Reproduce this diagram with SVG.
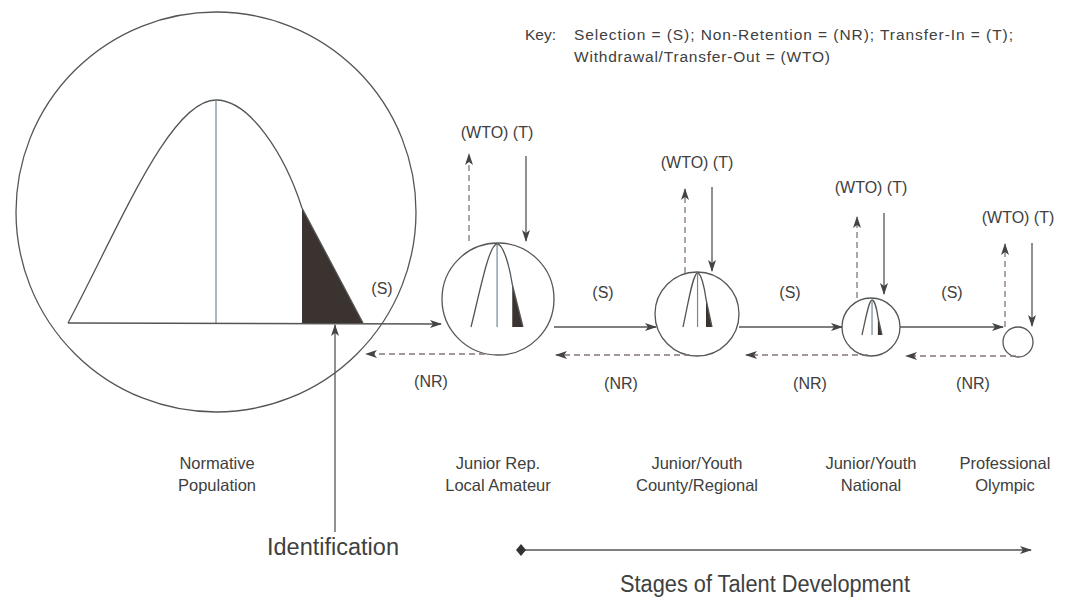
<svg xmlns="http://www.w3.org/2000/svg" width="1067" height="603" viewBox="0 0 1067 603">
  <style>
    text { font-family: "Liberation Sans", Arial, sans-serif; fill: #404040; }
    .lbl { font-size: 16px; text-anchor: middle; }
    .stage { font-size: 16.5px; text-anchor: middle; }
    .key { font-size: 15.5px; }
    .big { font-size: 23.5px; }
    .ring { fill: none; stroke: #555; stroke-width: 1.3; }
    .curve { fill: none; stroke: #555; stroke-width: 1.3; }
    .mid { stroke: #6f8a96; stroke-width: 1.2; }
    .fillDark { fill: #3a3330; stroke: none; }
    .solid { fill: none; stroke: #555; stroke-width: 1.3; }
    .dash { fill: none; stroke: #857676; stroke-width: 1.3; stroke-dasharray: 6 4; }
  </style>
  <defs>
    <marker id="arrow" viewBox="0 0 12 8" refX="11" refY="4" markerWidth="12" markerHeight="8" markerUnits="userSpaceOnUse" orient="auto">
      <path d="M0,0 L12,4 L0,8 L3,4 Z" fill="#444"/>
    </marker>
    <marker id="diamond" viewBox="0 0 10 12" refX="5" refY="6" markerWidth="10" markerHeight="12" markerUnits="userSpaceOnUse" orient="auto">
      <path d="M0,6 L5,0 L10,6 L5,12 Z" fill="#333"/>
    </marker>
    <!-- bell curve in its own 0..1 unit box, baseline at y=1 -->
    <g id="bell">
      <path class="fillDark" d="M0.7932,0.4843 L1,1 L0.7932,1 Z"/>
      <path class="curve" vector-effect="non-scaling-stroke" d="M0,1 C0.1763,0.5605 0.3458,0 0.5017,0 C0.6169,0 0.7356,0.2466 0.7932,0.4843 L1,1"/>
      <path class="mid" vector-effect="non-scaling-stroke" d="M0.5017,0 L0.5017,1"/>
    </g>
  </defs>

  <rect width="1067" height="603" fill="#ffffff"/>

  <!-- key -->
  <g id="key">
    <text class="key" x="525" y="40">Key:</text>
    <text class="key" x="574" y="40" textLength="439" lengthAdjust="spacing">Selection = (S); Non-Retention = (NR); Transfer-In = (T);</text>
    <text class="key" x="574" y="62" textLength="256" lengthAdjust="spacing">Withdrawal/Transfer-Out = (WTO)</text>
  </g>

  <!-- normative population -->
  <g id="population">
    <circle class="ring" cx="216" cy="212" r="200"/>
    <use href="#bell" transform="translate(68,100) scale(295,223)"/>
    <text class="stage" x="217" y="469">Normative</text>
    <text class="stage" x="217" y="491">Population</text>
  </g>

  <!-- stage 1 -->
  <g id="stage-junior-rep">
    <circle class="ring" cx="498" cy="299" r="56"/>
    <use href="#bell" transform="translate(471,244) scale(52,83)"/>
    <text class="stage" x="498" y="469">Junior Rep.</text>
    <text class="stage" x="498" y="491">Local Amateur</text>
    <text class="lbl" x="497" y="138">(WTO) (T)</text>
  </g>

  <!-- stage 2 -->
  <g id="stage-county">
    <circle class="ring" cx="697" cy="314" r="42"/>
    <use href="#bell" transform="translate(683,273) scale(29,54)"/>
    <text class="stage" x="697" y="469">Junior/Youth</text>
    <text class="stage" x="697" y="491">County/Regional</text>
    <text class="lbl" x="697" y="168">(WTO) (T)</text>
  </g>

  <!-- stage 3 -->
  <g id="stage-national">
    <circle class="ring" cx="871" cy="327" r="29"/>
    <use href="#bell" transform="translate(862,300) scale(20,35)"/>
    <text class="stage" x="871" y="469">Junior/Youth</text>
    <text class="stage" x="871" y="491">National</text>
    <text class="lbl" x="871" y="193">(WTO) (T)</text>
  </g>

  <!-- stage 4 -->
  <g id="stage-professional">
    <circle class="ring" cx="1018" cy="342" r="15"/>
    <text class="stage" x="1005" y="469">Professional</text>
    <text class="stage" x="1005" y="491">Olympic</text>
    <text class="lbl" x="1018" y="223">(WTO) (T)</text>
  </g>

  <!-- flows between stages -->
  <g id="connectors">
    <!-- selection -->
    <path class="solid" d="M68,323 L441,324" marker-end="url(#arrow)"/>
    <path class="solid" d="M554,327 L656,327" marker-end="url(#arrow)"/>
    <path class="solid" d="M739,327 L842,327" marker-end="url(#arrow)"/>
    <path class="solid" d="M900,327 L1003,327" marker-end="url(#arrow)"/>
    <!-- non-retention -->
    <path class="dash" d="M485,354 L366,354" marker-end="url(#arrow)"/>
    <path class="dash" d="M690,355 L556,355" marker-end="url(#arrow)"/>
    <path class="dash" d="M868,355 L746,355" marker-end="url(#arrow)"/>
    <path class="dash" d="M1016,356 L906,356" marker-end="url(#arrow)"/>
    <!-- withdrawal / transfer-out -->
    <path class="dash" d="M469,241 L469,154" marker-end="url(#arrow)"/>
    <path class="dash" d="M685,273 L685,189" marker-end="url(#arrow)"/>
    <path class="dash" d="M857,298 L857,217" marker-end="url(#arrow)"/>
    <path class="dash" d="M1005,327 L1005,244" marker-end="url(#arrow)"/>
    <!-- transfer-in -->
    <path class="solid" d="M526,156 L526,241" marker-end="url(#arrow)"/>
    <path class="solid" d="M712,187 L712,271" marker-end="url(#arrow)"/>
    <path class="solid" d="M884,213 L884,294" marker-end="url(#arrow)"/>
    <path class="solid" d="M1032,243 L1032,326" marker-end="url(#arrow)"/>
    <!-- identification -->
    <path class="solid" d="M335,532 L335,325" marker-end="url(#arrow)"/>
    <!-- stages of development axis -->
    <path class="solid" d="M521,550 L1031,550" marker-start="url(#diamond)" marker-end="url(#arrow)"/>
  </g>

  <!-- flow labels -->
  <g id="flow-labels">
    <text class="lbl" x="382" y="294">(S)</text>
    <text class="lbl" x="603" y="298">(S)</text>
    <text class="lbl" x="790" y="298">(S)</text>
    <text class="lbl" x="952" y="298">(S)</text>
    <text class="lbl" x="431" y="387">(NR)</text>
    <text class="lbl" x="621" y="389">(NR)</text>
    <text class="lbl" x="810" y="389">(NR)</text>
    <text class="lbl" x="973" y="389">(NR)</text>
  </g>

  <text class="big" x="267" y="555">Identification</text>
  <text class="big" x="620" y="592" textLength="290" lengthAdjust="spacingAndGlyphs">Stages of Talent Development</text>
</svg>
